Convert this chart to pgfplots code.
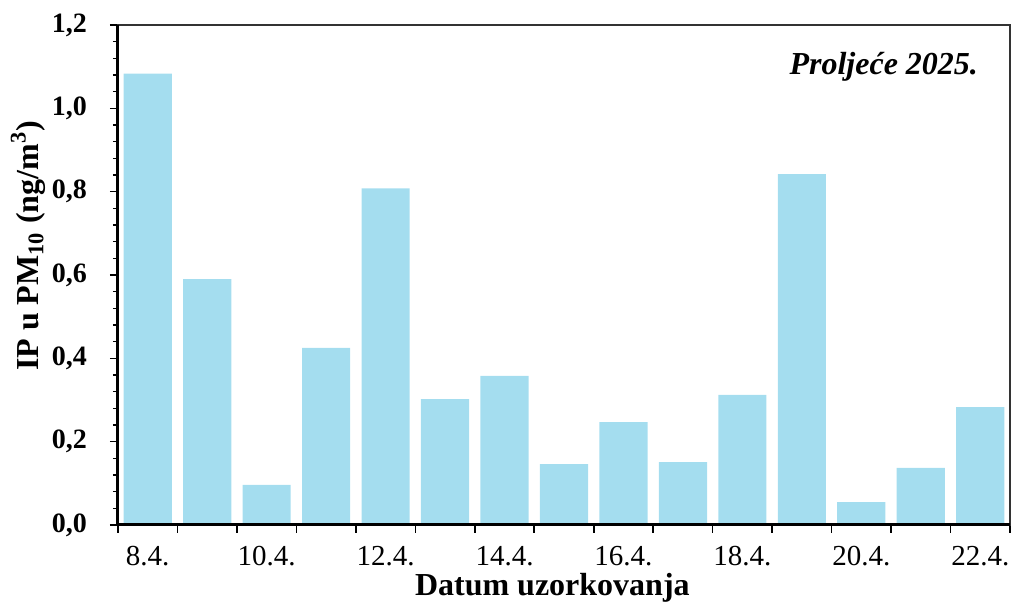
\documentclass[border=0pt]{standalone}
\usepackage{fontspec}
\setmainfont{Liberation Serif}
\usepackage{pgfplots}
\pgfplotsset{compat=1.18}
\definecolor{barblue}{RGB}{164,221,239}
\begin{document}
\begin{tikzpicture}
\begin{axis}[
  scale only axis,
  width=446pt, height=250pt,
  xmin=-0.5, xmax=14.5,
  ymin=0, ymax=1.2,
  ytick={0,0.2,0.4,0.6,0.8,1.0,1.2},
  minor y tick num=4,
  tick align=outside,
  major tick length=4pt,
  minor tick length=2.5pt,
  y tick label style={font=\bfseries\fontsize{14}{14}\selectfont, xshift=-8pt,
    /pgf/number format/.cd, fixed, fixed zerofill, precision=1, use comma, assume math mode=true},
  x tick label style={font=\fontsize{14.5}{14.5}\selectfont},
  xtick={-0.5,0.5,...,14.5},
  xticklabel={\relax},
  extra x ticks={0,2,4,6,8,10,12,14},
  extra x tick labels={8.4.,10.4.,12.4.,14.4.,16.4.,18.4.,20.4.,22.4.},
  extra x tick style={major tick length=0pt, tick label style={yshift=-7pt, font=\fontsize{14.5}{14.5}\selectfont}},
  xtick pos=bottom, ytick pos=left,
  axis line style={line width=0.6pt, black!80},
  every tick/.style={black, line width=0.8pt},
  clip=false,
]
\addplot[ybar, bar width=0.81, fill=barblue, draw=none] coordinates {
 (0,1.083) (1,0.590) (2,0.096) (3,0.425) (4,0.808)
 (5,0.302) (6,0.358) (7,0.146) (8,0.247) (9,0.151)
 (10,0.312) (11,0.842) (12,0.055) (13,0.137) (14,0.283)
};
\draw[line width=1.5pt, black] (rel axis cs:0,1) -- (rel axis cs:0,0) -- (rel axis cs:1,0);
\node[anchor=east, font=\bfseries\itshape\fontsize{16}{16}\selectfont] at (rel axis cs:0.972,0.916) {Proljeće 2025.};
\node[font=\bfseries\fontsize{16}{16}\selectfont, rotate=90] at ([xshift=-45pt]rel axis cs:0,0.558) {IP u PM\textsubscript{10} (ng/m\textsuperscript{3})};
\node[font=\bfseries\fontsize{16}{16}\selectfont] at ([yshift=-31.5pt]rel axis cs:0.487,0) {Datum uzorkovanja};
\end{axis}
\pgfresetboundingbox
\path ([xshift=-59pt,yshift=-40pt]current axis.south west) rectangle ([xshift=2pt,yshift=12.5pt]current axis.north east);
\end{tikzpicture}
\end{document}
